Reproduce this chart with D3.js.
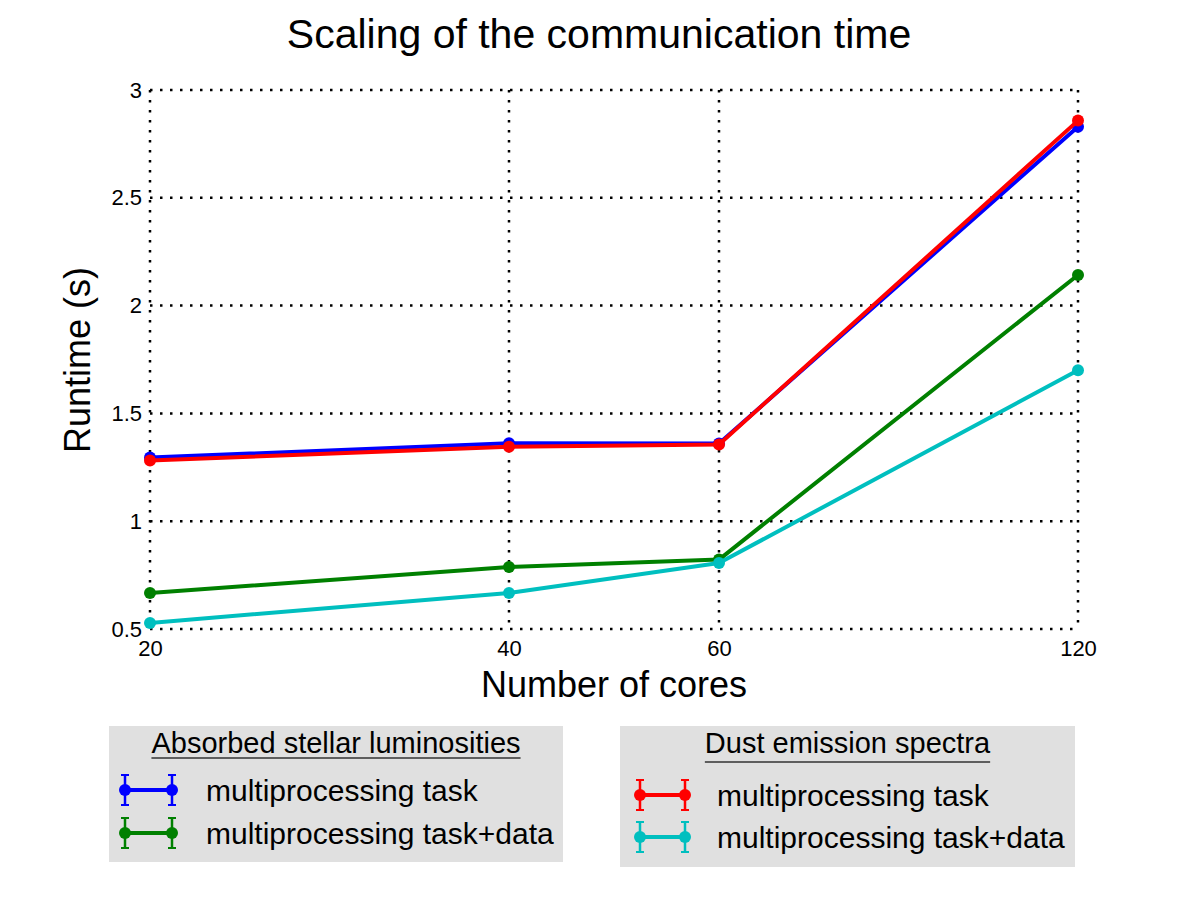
<!DOCTYPE html>
<html>
<head>
<meta charset="utf-8">
<script src="https://cdn.jsdelivr.net/npm/d3@7"></script>
<style>
  body { margin: 0; background: #fff; }
  text { font-family: "Liberation Sans", Arial, sans-serif; }
</style>
</head>
<body>
<div id="chart"></div>
<script>
var cores = [20, 40, 60, 120];
var yTicks = [0.5, 1, 1.5, 2, 2.5, 3];
var yTickLabels = ["0.5", "1", "1.5", "2", "2.5", "3"];

var stellarTask = [1.295, 1.362, 1.360, 2.830];
var stellarTaskData = [0.667, 0.788, 0.822, 2.142];
var dustTask = [1.282, 1.345, 1.356, 2.858];
var dustTaskData = [0.528, 0.667, 0.806, 1.700];

var series = [
  {name: "multiprocessing task", color: "#0000ff", values: stellarTask},
  {name: "multiprocessing task+data", color: "#008000", values: stellarTaskData},
  {name: "multiprocessing task", color: "#ff0000", values: dustTask},
  {name: "multiprocessing task+data", color: "#00bfbf", values: dustTaskData}
];

var legends = [
  {title: "Absorbed stellar luminosities", items: [series[0], series[1]],
   x: 109, y: 726, w: 454, h: 136, underline: 32, rows: [64, 107], mx: [16, 63]},
  {title: "Dust emission spectra", items: [series[2], series[3]],
   x: 620, y: 726, w: 455, h: 141, underline: 36, rows: [69, 111], mx: [20, 65]}
];

var width = 1200, height = 900;
var plot = {left: 150, right: 1078, top: 90, bottom: 629};

var svg = d3.select("#chart").append("svg")
  .attr("width", width)
  .attr("height", height);

var x = d3.scaleLog().domain([20, 120]).range([plot.left, plot.right]);
var y = d3.scaleLinear().domain([0.5, 3]).range([plot.bottom, plot.top]);

//grid lines (dotted, also at the edges)
var grid = svg.append("g").attr("class", "grid");
grid.selectAll(".vgrid")
  .data(cores)
  .enter().append("line")
  .attr("x1", function(d) { return x(d); })
  .attr("x2", function(d) { return x(d); })
  .attr("y1", plot.top)
  .attr("y2", plot.bottom)
  .style("stroke", "#000")
  .style("stroke-width", 2.5)
  .style("stroke-dasharray", "2.5,7.5");
grid.selectAll(".hgrid")
  .data(yTicks)
  .enter().append("line")
  .attr("x1", plot.left)
  .attr("x2", plot.right)
  .attr("y1", function(d) { return y(d); })
  .attr("y2", function(d) { return y(d); })
  .style("stroke", "#000")
  .style("stroke-width", 2.5)
  .style("stroke-dasharray", "2.5,7.5");

//axes without domain lines
var xAxis = svg.append("g")
  .attr("transform", "translate(0," + plot.bottom + ")")
  .call(d3.axisBottom(x).tickValues(cores).tickFormat(d3.format("d")).tickSize(0).tickPadding(11));
var yAxis = svg.append("g")
  .attr("transform", "translate(" + plot.left + ",0)")
  .call(d3.axisLeft(y).tickValues(yTicks).tickFormat(function(d, i) { return yTickLabels[i]; }).tickSize(0).tickPadding(8));
[xAxis, yAxis].forEach(function(a) {
  a.select(".domain").remove();
  a.selectAll("text")
    .style("font-family", "'Liberation Sans', Arial, sans-serif")
    .style("font-size", "22px")
    .style("fill", "#000");
});

//lines and markers
var line = d3.line()
  .x(function(d, i) { return x(cores[i]); })
  .y(function(d) { return y(d); });

var lineG = svg.append("g").attr("class", "series");
series.forEach(function(s) {
  lineG.append("path")
    .datum(s.values)
    .attr("d", line)
    .style("fill", "none")
    .style("stroke", s.color)
    .style("stroke-width", 4)
    .style("stroke-linejoin", "round");
  lineG.selectAll(null)
    .data(s.values)
    .enter().append("circle")
    .attr("cx", function(d, i) { return x(cores[i]); })
    .attr("cy", function(d) { return y(d); })
    .attr("r", 6)
    .style("fill", s.color);
});

//titles
svg.append("text")
  .attr("x", 599)
  .attr("y", 48)
  .attr("text-anchor", "middle")
  .style("font-size", "41px")
  .text("Scaling of the communication time");

svg.append("text")
  .attr("x", 614)
  .attr("y", 697)
  .attr("text-anchor", "middle")
  .style("font-size", "36px")
  .text("Number of cores");

svg.append("text")
  .attr("transform", "translate(90,360) rotate(-90)")
  .attr("text-anchor", "middle")
  .style("font-size", "36px")
  .text("Runtime (s)");

//legends
legends.forEach(function(lg) {
  var g = svg.append("g").attr("transform", "translate(" + lg.x + "," + lg.y + ")");
  g.append("rect")
    .attr("width", lg.w)
    .attr("height", lg.h)
    .style("fill", "#e0e0e0");
  var title = g.append("text")
    .attr("x", lg.w / 2)
    .attr("y", 27)
    .attr("text-anchor", "middle")
    .style("font-size", "29px")
    .text(lg.title);
  var tw = title.node().getComputedTextLength();
  g.append("line")
    .attr("x1", lg.w / 2 - tw / 2)
    .attr("x2", lg.w / 2 + tw / 2)
    .attr("y1", lg.underline)
    .attr("y2", lg.underline)
    .style("stroke", "#333")
    .style("stroke-width", 1.5);

  lg.items.forEach(function(it, i) {
    var ig = g.append("g").attr("transform", "translate(0," + lg.rows[i] + ")");
    var x0 = lg.mx[0], x1 = lg.mx[1];
    ig.append("line")
      .attr("x1", x0).attr("x2", x1).attr("y1", 0).attr("y2", 0)
      .style("stroke", it.color).style("stroke-width", 4);
    [x0, x1].forEach(function(px) {
      ig.append("line")
        .attr("x1", px).attr("x2", px).attr("y1", -15).attr("y2", 15)
        .style("stroke", it.color).style("stroke-width", 2.5);
      ig.append("line")
        .attr("x1", px - 4).attr("x2", px + 4).attr("y1", -15).attr("y2", -15)
        .style("stroke", it.color).style("stroke-width", 2);
      ig.append("line")
        .attr("x1", px - 4).attr("x2", px + 4).attr("y1", 15).attr("y2", 15)
        .style("stroke", it.color).style("stroke-width", 2);
      ig.append("circle")
        .attr("cx", px).attr("cy", 0).attr("r", 6)
        .style("fill", it.color);
    });
    ig.append("text")
      .attr("x", 97)
      .attr("y", 11)
      .style("font-size", "30px")
      .text(it.name);
  });
});
</script>
</body>
</html>
